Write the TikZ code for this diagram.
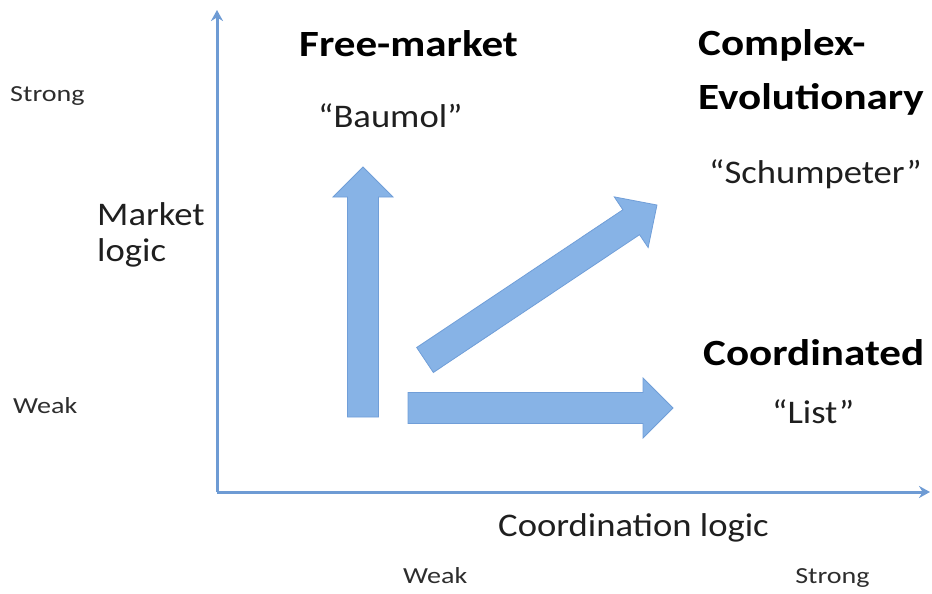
\documentclass[tikz,border=0pt]{standalone}
\usepackage{fontspec}
\setmainfont{Carlito}
\usetikzlibrary{arrows.meta}

\definecolor{axisblue}{RGB}{110,155,212}
\definecolor{arrowfill}{RGB}{135,179,230}
\definecolor{arrowline}{RGB}{112,158,216}
\definecolor{labelgray}{RGB}{45,45,45}

\tikzset{
	head/.style={anchor=base west, inner sep=0pt, xscale=1.165, font=\fontsize{37}{40}\selectfont\bfseries},
	body/.style={anchor=base west, inner sep=0pt, xscale=1.11, font=\fontsize{33}{36}\selectfont, text=black!88},
	level/.style={anchor=base west, inner sep=0pt, xscale=1.22, font=\fontsize{23}{25}\selectfont, text=labelgray},
	blockarrow/.style={fill=arrowfill, draw=arrowline, line width=0.8pt, line join=miter},
	axis/.style={draw=axisblue, line width=3pt, -{Stealth[length=11pt,width=12pt]}}
}

\begin{document}
\begin{tikzpicture}[x=1pt, y=-1pt]
	\useasboundingbox (0,0) rectangle (932,594);

	% axes
	\coordinate (origin) at (217,492);
	\coordinate (ytop) at (217,10);
	\coordinate (xend) at (930,492);
	\draw[axis] (origin) -- (ytop);
	\draw[axis] (origin) -- (xend);

	% axis levels
	\node[level] (ystrong) at (10,101) {Strong};
	\node[level] (yweak) at (13,413) {Weak};
	\node[level] (xweak) at (403,583) {Weak};
	\node[level] (xstrong) at (795,583) {Strong};

	\node[body] (market) at (97,225) {Market};
	\node[body] (marketlogic) at (97,261) {logic};
	\node[body] (coordlogic) at (498,536) {Coordination logic};

	% block arrows
	\begin{scope}[shift={(363,417)}, rotate=90]
		\draw[blockarrow] (0,-15.5) -- (220,-15.5) -- (220,-30) -- (250,0) coordinate (upTip)
			-- (220,30) -- (220,15.5) -- (0,15.5) -- cycle;
	\end{scope}
	\begin{scope}[shift={(425,360)}, rotate=33.75]
		\draw[blockarrow] (0,-15) -- (248,-15) -- (248,-30.5) -- (279,0) coordinate (diagTip)
			-- (248,30.5) -- (248,15) -- (0,15) -- cycle;
	\end{scope}
	\begin{scope}[shift={(408,408)}]
		\draw[blockarrow] (0,-15.5) -- (235,-15.5) -- (235,-30) -- (265,0) coordinate (rightTip)
			-- (235,30) -- (235,15.5) -- (0,15.5) -- cycle;
	\end{scope}

	% regimes
	\node[head] (free) at (299,57) {Free-market};
	\node[body] (baumol) at (318,127) {“Baumol”};

	\node[head] (complex) at (698,56) {Complex-};
	\node[head] (evol) at (698,110) {Evolutionary};
	\node[body] (schumpeter) at (709,183) {“Schumpeter”};

	\node[head] (coord) at (703,365) {Coordinated};
	\node[body] (list) at (772,423) {“List”};
\end{tikzpicture}
\end{document}
